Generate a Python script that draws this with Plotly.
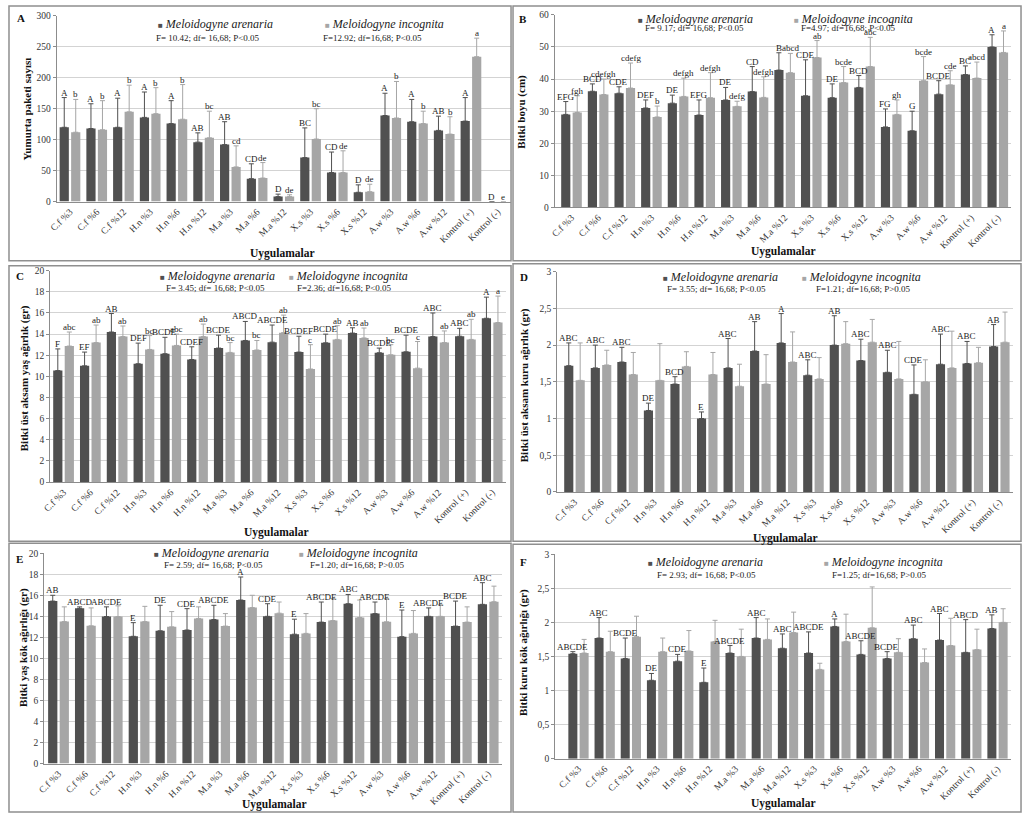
import plotly.graph_objects as go

W, H = 1024, 818

categories = ["C.f %3", "C.f %6", "C.f %12", "H.n %3", "H.n %6", "H.n %12", "M.a %3", "M.a %6",
              "M.a %12", "X.s %3", "X.s %6", "X.s %12", "A.w %3", "A.w %6", "A.w %12",
              "Kontrol (+)", "Kontrol (-)"]
series_names = ["Meloidogyne arenaria", "Meloidogyne incognita"]

# Panel A - Yumurta paketi sayısı
a_ma = [120, 118, 120, 136, 126, 96, 92, 37, 8, 71, 47, 15, 139, 129, 115, 130, 0]
a_ma_sd = [48, 40, 47, 41, 37, 15, 37, 24, 4, 48, 33, 12, 36, 36, 23, 38, 0]
a_mi = [112, 116, 145, 142, 133, 103, 56, 38, 8, 101, 47, 16, 135, 126, 109, 234, 0]
a_mi_sd = [53, 47, 43, 42, 56, 43, 34, 25, 3, 49, 35, 12, 59, 20, 28, 30, 0]
a_ma_let = ["A", "A", "A", "A", "A", "AB", "AB", "CD", "D", "BC", "CD", "D", "A", "A", "AB", "A", "D"]
a_mi_let = ["b", "b", "b", "b", "b", "bc", "cd", "de", "de", "bc", "de", "de", "b", "b", "b", "a", "e"]

# Panel B - Bitki boyu
b_ma = [29, 36.2, 35.6, 31, 32.5, 28.8, 33.5, 36.1, 42.8, 34.8, 34.2, 37.4, 25.1, 23.9, 35.3, 41.4, 50]
b_ma_sd = [4.0, 2.3, 2.0, 2.5, 2.5, 4.7, 3.9, 7.8, 5.4, 11.2, 4.3, 3.7, 5.6, 6.1, 4.2, 2.7, 3.8]
b_mi = [29.6, 35.2, 37.2, 28.2, 34.6, 34.2, 31.5, 34.3, 42, 46.7, 38.9, 43.9, 29, 39.5, 38.2, 40.3, 48.3]
b_mi_sd = [5.2, 4.8, 7.8, 3.4, 5.7, 7.8, 1.6, 6.4, 6.0, 5.3, 5.0, 9.1, 4.5, 7.5, 4.4, 5.0, 6.7]
b_ma_let = ["EFG", "BCD", "CDE", "DEF", "DE", "EFG", "DE", "CD", "B", "CDE", "DE", "BCD", "FG", "G",
            "BCDE", "BC", "A"]
b_mi_let = ["fgh", "cdefgh", "cdefg", "b", "defgh", "defgh", "defg", "defgh", "abcd", "ab", "bcde",
            "abc", "gh", "bcde", "cde", "abcd", "a"]

# Panel C - Bitki üst aksam yaş ağırlık
c_ma = [10.55, 11.0, 14.2, 11.2, 12.15, 11.6, 12.68, 13.4, 13.24, 12.3, 13.18, 14.1, 12.24, 12.33,
        13.77, 13.8, 15.5]
c_ma_sd = [2.05, 1.3, 1.75, 1.95, 1.55, 1.2, 1.22, 1.8, 1.62, 1.5, 0.82, 0.5, 0.44, 1.57, 2.23, 0.75, 2.0]
c_mi = [12.87, 13.2, 13.77, 12.55, 12.93, 13.77, 12.27, 12.5, 14.14, 10.7, 13.5, 13.64, 12.05, 10.78,
        13.2, 13.5, 15.1]
c_mi_sd = [1.33, 1.66, 1.0, 1.31, 1.07, 1.18, 0.93, 0.9, 1.66, 2.3, 1.3, 0.94, 0.95, 2.52, 1.1, 1.9, 2.5]
c_ma_let = ["F", "EF", "AB", "DEF", "BCDE", "CDEF", "BCDE", "ABCD", "ABCDE", "BCDEF", "BCDE", "AB",
            "BCDE", "BCDE", "ABC", "ABC", "A"]
c_mi_let = ["abc", "ab", "ab", "bc", "abc", "ab", "bc", "bc", "ab", "c", "ab", "ab", "bc", "c", "ab",
            "ab", "a"]

# Panel D - Bitki üst aksam kuru ağırlık
d_ma = [1.72, 1.69, 1.77, 1.11, 1.47, 1.0, 1.69, 1.92, 2.03, 1.59, 2.0, 1.79, 1.63, 1.33, 1.74, 1.75, 1.98]
d_ma_sd = [0.31, 0.31, 0.2, 0.1, 0.1, 0.09, 0.4, 0.4, 0.4, 0.21, 0.4, 0.29, 0.3, 0.4, 0.41, 0.3, 0.3]
d_mi = [1.52, 1.73, 1.6, 1.52, 1.71, 1.6, 1.44, 1.47, 1.77, 1.54, 2.02, 2.04, 1.54, 1.5, 1.69, 1.76, 2.04]
d_mi_sd = [0.51, 0.2, 0.3, 0.5, 0.2, 0.3, 0.3, 0.4, 0.41, 0.29, 0.3, 0.31, 0.51, 0.3, 0.5, 0.21, 0.41]
d_ma_let = ["ABC", "ABC", "ABC", "DE", "BCD", "E", "ABC", "AB", "A", "ABC", "AB", "ABC", "ABC", "CDE",
            "ABC", "ABC", "AB"]
d_mi_let = [""] * 17

# Panel E - Bitki yaş kök ağırlığı
e_ma = [15.45, 14.76, 13.98, 12.1, 12.63, 12.7, 13.7, 15.55, 14.0, 12.3, 13.45, 15.2, 14.26, 12.07,
        14.0, 13.07, 15.14]
e_ma_sd = [0.55, 0.14, 0.92, 1.3, 2.42, 2.03, 1.35, 2.19, 1.2, 1.43, 1.91, 0.88, 1.1, 2.53, 0.8, 2.38, 2.06]
e_mi = [13.5, 13.1, 13.98, 13.5, 13.0, 13.8, 13.07, 14.83, 14.3, 12.38, 13.6, 13.89, 13.48, 12.38,
        14.0, 13.45, 15.39]
e_mi_sd = [1.4, 1.7, 1.02, 1.45, 1.45, 1.1, 1.19, 1.17, 1.06, 1.88, 2.1, 1.66, 2.22, 2.17, 1.1, 1.45, 1.48]
e_ma_let = ["AB", "ABCD", "ABCDE", "E", "DE", "CDE", "ABCDE", "A", "CDE", "E", "ABCDE", "ABC", "ABCDE",
            "E", "ABCDE", "BCDE", "ABC"]
e_mi_let = [""] * 17

# Panel F - Bitki kuru kök ağırlığı
f_ma = [1.54, 1.77, 1.47, 1.15, 1.43, 1.12, 1.55, 1.77, 1.62, 1.55, 1.94, 1.53, 1.47, 1.76, 1.74, 1.56, 1.91]
f_ma_sd = [0.03, 0.3, 0.3, 0.1, 0.1, 0.21, 0.11, 0.3, 0.21, 0.31, 0.11, 0.2, 0.1, 0.2, 0.39, 0.48, 0.2]
f_mi = [1.55, 1.57, 1.79, 1.57, 1.58, 1.72, 1.5, 1.75, 1.85, 1.31, 1.72, 1.92, 1.56, 1.41, 1.66, 1.6, 2.0]
f_mi_sd = [0.2, 0.3, 0.3, 0.2, 0.3, 0.31, 0.4, 0.3, 0.3, 0.09, 0.4, 0.6, 0.2, 0.2, 0.4, 0.3, 0.2]
f_ma_let = ["ABCDE", "ABC", "BCDE", "DE", "CDE", "E", "ABCDE", "ABC", "ABC", "ABCDE", "A", "ABCDE",
            "BCDE", "ABC", "ABC", "ABCD", "AB"]
f_mi_let = [""] * 17

stats_ma = ["F= 10.42; df= 16,68; P<0.05", "F= 9.17; df= 16,68; P<0.05", "F= 3.45; df= 16,68; P<0.05",
            "F= 3.55; df= 16,68; P<0.05", "F= 2.59; df= 16,68; P<0.05", "F= 2.93; df= 16,68; P<0.05"]
stats_mi = ["F=12.92; df=16,68; P<0.05", "F=4.97; df=16,68; P<0.05", "F=2.36; df=16,68; P<0.05",
            "F=1.21; df=16,68; P>0.05", "F=1.20; df=16,68; P>0.05", "F=1.25; df=16,68; P>0.05"]
y_titles = ["Yumurta paketi sayısı", "Bitki boyu (cm)", "Bitki üst aksam yaş ağırlık (gr)",
            "Bitki üst aksam kuru ağırlık (gr)", "Bitki yaş kök ağırlığı (gr)",
            "Bitki kuru kök ağırlığı (gr)"]
panel_letters = ["A", "B", "C", "D", "E", "F"]
y_ranges = [(0, 300, 50), (0, 60, 10), (0, 20, 2), (0, 3, 0.5), (0, 20, 2), (0, 3, 0.5)]
x_title = "Uygulamalar"

data = [
    (a_ma, a_ma_sd, a_mi, a_mi_sd, a_ma_let, a_mi_let),
    (b_ma, b_ma_sd, b_mi, b_mi_sd, b_ma_let, b_mi_let),
    (c_ma, c_ma_sd, c_mi, c_mi_sd, c_ma_let, c_mi_let),
    (d_ma, d_ma_sd, d_mi, d_mi_sd, d_ma_let, d_mi_let),
    (e_ma, e_ma_sd, e_mi, e_mi_sd, e_ma_let, e_mi_let),
    (f_ma, f_ma_sd, f_mi, f_mi_sd, f_ma_let, f_mi_let),
]

# ---- layout geometry (pixels) ----
plot_px = [  # x0, x1, ytop, ybottom
    (49, 507, 11, 199),
    (551, 1011, 10, 205),
    (42.5, 501.5, 269, 483),
    (553.5, 1012.5, 270, 493),
    (36.5, 497.5, 555, 768),
    (551.5, 1010.5, 556, 763),
]
boxes = [(1, 1, 507, 259), (509, 1, 1021, 259), (1, 264, 507, 543), (509, 262, 1021, 543),
         (1, 545, 507, 817), (509, 546, 1021, 817)]
letter_pos = [(13, 13), (519, 14), (12, 274), (520, 275), (12, 561), (520, 564)]
ytitle_pos = [(19, 105), (518, 108), (17, 378), (520, 385), (15, 650), (520, 655)]
xtitle_pos = [(277, 252), (782, 250), (271, 534), (784, 540), (269, 809), (782, 808)]
leg1_pos = [(149, 19), (633, 14), (151, 274), (658, 275), (145, 555), (643, 564)]
st1_pos = [(147, 33), (640, 23), (157, 287), (662, 288), (155, 567), (652, 577)]
leg2_pos = [(317, 19), (790, 14), (281, 274), (798, 275), (291, 555), (820, 564)]
st2_pos = [(315, 33), (797, 23), (289, 287), (812, 288), (302, 567), (828, 577)]

DARK = "#505050"
LIGHT = "#a6a6a6"
FONT = "Liberation Serif"


def px(x):
    return x / W


def py(y):
    return 1 - y / H


fig = go.Figure()
layout = dict(width=W, height=H, margin=dict(l=0, r=0, t=0, b=0), paper_bgcolor="white",
              plot_bgcolor="white", showlegend=False, barmode="group", bargap=0.14,
              bargroupgap=0.2, separators=",.", font=dict(family=FONT, color="#333333"))
annotations = []
shapes = []

for i in range(6):
    ax = "" if i == 0 else str(i + 1)
    xa, ya = "x" + ax, "y" + ax
    ma, ma_sd, mi, mi_sd, ma_let, mi_let = data[i]
    for vals, sds, col, nm in ((ma, ma_sd, DARK, series_names[0]), (mi, mi_sd, LIGHT, series_names[1])):
        fig.add_trace(go.Bar(
            x=categories, y=vals, name=nm, marker=dict(color=col, line=dict(width=0)),
            error_y=dict(type="data", symmetric=False, array=sds, arrayminus=[0] * len(sds),
                         color=col, thickness=1, width=2.5),
            xaxis=xa, yaxis=ya))
    x0, x1, yt, yb = plot_px[i]
    lo, hi, dt = y_ranges[i]
    layout["xaxis" + ax] = dict(domain=[px(x0), px(x1)], anchor=ya, type="category",
                                tickangle=-45, tickfont=dict(family=FONT, size=9.5, color="#333333"),
                                showline=True, linecolor="#8c8c8c", linewidth=1, ticks="",
                                showgrid=False, fixedrange=True)
    layout["yaxis" + ax] = dict(domain=[py(yb), py(yt)], anchor=xa, range=[lo, hi], dtick=dt,
                                tick0=0, showgrid=True, gridcolor="#d3d3d3", gridwidth=1,
                                zeroline=False, showline=True, linecolor="#8c8c8c", linewidth=1,
                                ticks="outside", ticklen=3, tickcolor="#8c8c8c",
                                tickfont=dict(family=FONT, size=9.5, color="#333333"))
    # significance letters
    for j, c in enumerate(categories):
        for vals, sds, lets, shift in ((ma, ma_sd, ma_let, -5.8), (mi, mi_sd, mi_let, 5.8)):
            if lets[j]:
                annotations.append(dict(x=c, y=vals[j] + sds[j], xref=xa, yref=ya, text=lets[j],
                                        showarrow=False, xshift=shift, xanchor="center",
                                        yanchor="bottom", yshift=-2,
                                        font=dict(family=FONT, size=9, color="#222222")))
    # box
    bx0, by0, bx1, by1 = boxes[i]
    shapes.append(dict(type="rect", xref="paper", yref="paper", x0=px(bx0), x1=px(bx1),
                       y0=py(by1), y1=py(by0), line=dict(color="#8f8f8f", width=1.5)))
    # texts
    lx, ly = letter_pos[i]
    annotations.append(dict(x=px(lx), y=py(ly), xref="paper", yref="paper", text="<b>%s</b>" % panel_letters[i],
                            xanchor="center", yanchor="middle",
                            showarrow=False, font=dict(family=FONT, size=11, color="#111111")))
    tx, ty = ytitle_pos[i]
    annotations.append(dict(x=px(tx), y=py(ty), xref="paper", yref="paper", text="<b>%s</b>" % y_titles[i],
                            xanchor="center", yanchor="middle",
                            textangle=-90, showarrow=False, font=dict(family=FONT, size=11, color="#111111")))
    tx, ty = xtitle_pos[i]
    annotations.append(dict(x=px(tx), y=py(ty), xref="paper", yref="paper", text="<b>%s</b>" % x_title,
                            xanchor="center", yanchor="middle",
                            showarrow=False, font=dict(family=FONT, size=11.5, color="#111111")))
    for (lpx, lpy), (spx, spy), col, nm, st in ((leg1_pos[i], st1_pos[i], DARK, series_names[0], stats_ma[i]),
                                                (leg2_pos[i], st2_pos[i], LIGHT, series_names[1], stats_mi[i])):
        annotations.append(dict(x=px(lpx), y=py(lpy), xref="paper", yref="paper", xanchor="left",
                                yanchor="middle", showarrow=False,
                                text="<span style='color:%s;font-size:8px'>■</span> <i>%s</i>" % (col, nm),
                                font=dict(family=FONT, size=12, color="#222222")))
        annotations.append(dict(x=px(spx), y=py(spy), xref="paper", yref="paper", xanchor="left",
                                yanchor="middle", showarrow=False, text=st,
                                font=dict(family=FONT, size=9, color="#222222")))

layout["annotations"] = annotations
layout["shapes"] = shapes
fig.update_layout(**layout)
fig.write_html("out.html")
